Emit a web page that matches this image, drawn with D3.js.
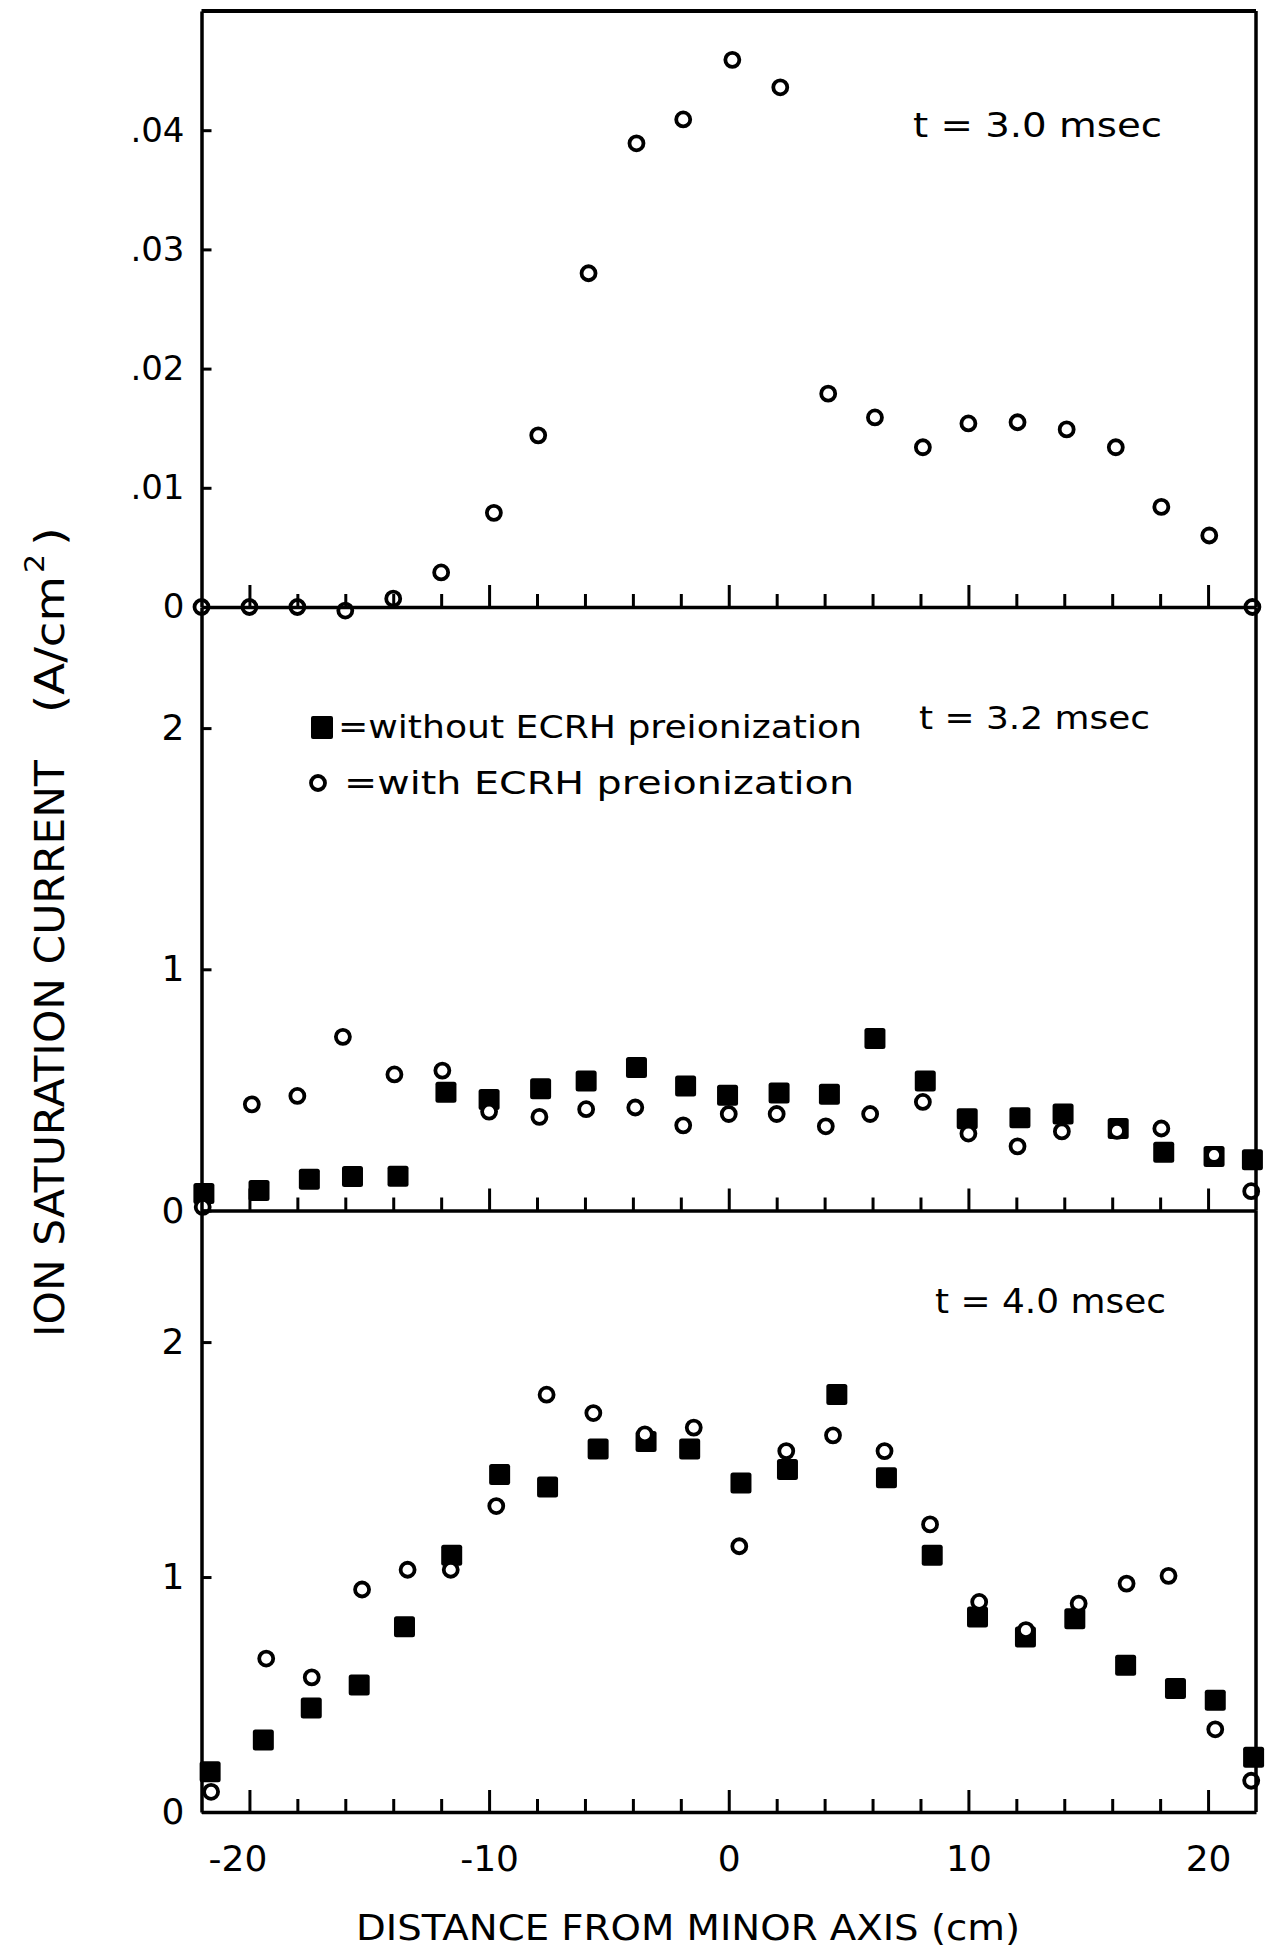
<!DOCTYPE html>
<html><head><meta charset="utf-8">
<script src="https://cdn.jsdelivr.net/npm/d3@7"></script>
<style>
html,body{margin:0;padding:0;background:#fff;}
svg{display:block;}
</style></head><body>
<svg id="chart" width="1270" height="1952"></svg>
<script>
// ---------------- data ----------------
const xTicks = [-20,-18,-16,-14,-12,-10,-8,-6,-4,-2,0,2,4,6,8,10,12,14,16,18,20];
const xMajorTicks = [-20,-10,0,10,20];
const xTickLabels = ["-20","-10","0","10","20"];
const p1YTicks = [0,0.01,0.02,0.03,0.04];
const p1YTickLabels = ["0",".01",".02",".03",".04"];
const p23YTicks = [0,1,2];
const p23YTickLabels = ["0","1","2"];
const panelTitles = ["t = 3.0 msec","t = 3.2 msec","t = 4.0 msec"];
const legendLabels = ["=without ECRH preionization","=with ECRH preionization"];
const xTitle = "DISTANCE FROM MINOR AXIS (cm)";
const yTitleMain = "ION SATURATION CURRENT";
const yTitleUnit = "(A/cm";

// panel 1: t = 3.0 msec (open circles)
const p1X = [-22,-20,-18,-16,-14,-12,-9.8,-7.95,-5.85,-3.85,-1.9,0.15,2.15,4.15,6.1,8.1,10,12.05,14.1,16.15,18.05,20.05,21.85];
const p1Y = [0,0,0,-0.0003,0.0007,0.0029,0.0079,0.0144,0.028,0.0389,0.0409,0.0459,0.0436,0.0179,0.0159,0.0134,0.0154,0.0155,0.0149,0.0134,0.0084,0.006,0];

// panel 2: t = 3.2 msec
const p2WithX = [-21.95,-19.9,-18,-16.1,-13.95,-11.95,-10,-7.9,-5.95,-3.9,-1.9,0,2,4.05,5.9,8.1,10,12.05,13.9,16.2,18.05,20.25,21.8];
const p2WithY = [0.015,0.44,0.475,0.72,0.564,0.58,0.41,0.388,0.42,0.427,0.353,0.40,0.40,0.349,0.40,0.45,0.319,0.266,0.328,0.33,0.34,0.23,0.08];
const p2WithoutX = [-21.9,-19.6,-17.5,-15.7,-13.8,-11.8,-10,-7.85,-5.95,-3.85,-1.8,-0.05,2.1,4.2,6.1,8.2,9.95,12.15,13.95,16.25,18.15,20.25,21.85];
const p2WithoutY = [0.07,0.083,0.13,0.141,0.142,0.49,0.46,0.505,0.537,0.593,0.516,0.478,0.487,0.482,0.713,0.537,0.38,0.385,0.40,0.34,0.242,0.224,0.21];

// panel 3: t = 4.0 msec
const p3WithX = [-21.6,-19.3,-17.4,-15.3,-13.4,-11.6,-9.7,-7.6,-5.65,-3.5,-1.46,0.44,2.4,4.35,6.5,8.4,10.45,12.4,14.6,16.6,18.35,20.3,21.8];
const p3WithY = [0.086,0.653,0.573,0.947,1.031,1.031,1.302,1.776,1.698,1.607,1.636,1.131,1.536,1.603,1.536,1.224,0.894,0.774,0.887,0.972,1.005,0.352,0.133];
const p3WithoutX = [-21.64,-19.42,-17.42,-15.42,-13.53,-11.56,-9.56,-7.56,-5.45,-3.45,-1.63,0.51,2.45,4.51,6.58,8.49,10.38,12.38,14.44,16.56,18.64,20.3,21.9];
const p3WithoutY = [0.171,0.306,0.443,0.54,0.788,1.093,1.436,1.383,1.545,1.577,1.545,1.40,1.458,1.777,1.423,1.093,0.83,0.745,0.823,0.625,0.526,0.476,0.233];

// ---------------- layout ----------------
const FONT = "'DejaVu Sans', 'Liberation Sans', sans-serif";
const svg = d3.select("#chart");
svg.append("rect").attr("width",1270).attr("height",1952).attr("fill","#fff");

const x = d3.scaleLinear().domain([-22,22]).range([201.5,1256]);
const y1 = d3.scaleLinear().domain([0,0.05]).range([607,11]);
const y2 = d3.scaleLinear().domain([0,2.5]).range([1210.5,607.5]);
const y3 = d3.scaleLinear().domain([0,2.56]).range([1812,1210.5]);

const panels = [
  {y:y1, yTicks:p1YTicks, yLabels:p1YTickLabels, yFont:34, bottom:false,
   title:panelTitles[0], tx:913, tb:137, tl:249, tf:34,
   squares:null, circles:{x:p1X, y:p1Y}, circleFill:"none"},
  {y:y2, yTicks:p23YTicks, yLabels:p23YTickLabels, yFont:36, bottom:false,
   title:panelTitles[1], tx:919, tb:729, tl:231, tf:32,
   squares:{x:p2WithoutX, y:p2WithoutY}, circles:{x:p2WithX, y:p2WithY}, circleFill:"#fff"},
  {y:y3, yTicks:p23YTicks, yLabels:p23YTickLabels, yFont:36, bottom:true,
   title:panelTitles[2], tx:935, tb:1313, tl:231, tf:34,
   squares:{x:p3WithoutX, y:p3WithoutY}, circles:{x:p3WithX, y:p3WithY}, circleFill:"#fff"}
];

const SQ = 21, CR = 7, CSW = 3.8;

function drawSquares(g, xs, ys, yScale) {
  g.selectAll(null).data(xs.map((d,i)=>({x:d, y:ys[i]}))).enter().append("rect")
    .attr("x", d => x(d.x) - SQ/2).attr("y", d => yScale(d.y) - SQ/2)
    .attr("width", SQ).attr("height", SQ).attr("rx", 2.5)
    .attr("fill", "#000");
}
function drawCircles(g, xs, ys, yScale, fill) {
  g.selectAll(null).data(xs.map((d,i)=>({x:d, y:ys[i]}))).enter().append("circle")
    .attr("cx", d => x(d.x)).attr("cy", d => yScale(d.y)).attr("r", CR)
    .attr("fill", fill).attr("stroke", "#000").attr("stroke-width", CSW);
}

panels.forEach(p => {
  const gm = svg.append("g");
  if (p.squares) drawSquares(gm, p.squares.x, p.squares.y, p.y);
  drawCircles(gm, p.circles.x, p.circles.y, p.y, p.circleFill);

  // x axis (zero line with inward ticks)
  const fmt = d => { const i = xMajorTicks.indexOf(d); return (p.bottom && i >= 0) ? xTickLabels[i] : ""; };
  const gx = svg.append("g").attr("transform", `translate(0,${p.y(0)})`)
    .call(d3.axisBottom(x).tickValues(xTicks).tickSize(-13).tickSizeOuter(0).tickPadding(33).tickFormat(fmt));
  gx.attr("font-size", 36).attr("font-family", FONT);
  gx.select(".domain").attr("stroke", "#000").attr("stroke-width", 3.5);
  gx.selectAll(".tick line").attr("stroke", "#000").attr("stroke-width", 3)
    .filter(d => xMajorTicks.includes(d)).attr("y2", -22);
  gx.selectAll(".tick text").attr("fill", "#000").attr("dx", d => d === -20 ? -12 : 0);

  // y axis (left)
  const gy = svg.append("g").attr("transform", `translate(${x.range()[0]},0)`)
    .call(d3.axisLeft(p.y).tickValues(p.yTicks).tickSize(-10).tickSizeOuter(0).tickPadding(17)
      .tickFormat((d,i) => p.yLabels[i]));
  gy.attr("font-size", p.yFont).attr("font-family", FONT);
  gy.select(".domain").attr("stroke", "#000").attr("stroke-width", 3.5);
  gy.selectAll(".tick line").attr("stroke", "#000").attr("stroke-width", 3);
  gy.selectAll(".tick text").attr("fill", "#000");

  // right border
  svg.append("line").attr("x1", x.range()[1]).attr("x2", x.range()[1])
    .attr("y1", p.y.range()[1]).attr("y2", p.y.range()[0])
    .attr("stroke", "#000").attr("stroke-width", 3.5);

  // panel annotation
  svg.append("text").attr("x", p.tx).attr("y", p.tb)
    .attr("font-family", FONT).attr("font-size", p.tf).attr("fill", "#000")
    .attr("textLength", p.tl).attr("lengthAdjust", "spacingAndGlyphs")
    .text(p.title);
});

// top border
svg.append("line").attr("x1", x.range()[0]).attr("x2", x.range()[1])
  .attr("y1", y1.range()[1]).attr("y2", y1.range()[1])
  .attr("stroke", "#000").attr("stroke-width", 4);

// legend (panel 2)
svg.append("rect").attr("x", 311).attr("y", 716).attr("width", 22).attr("height", 23).attr("rx", 2).attr("fill", "#000");
svg.append("text").attr("x", 338).attr("y", 738)
  .attr("font-family", FONT).attr("font-size", 32).attr("fill", "#000")
  .attr("textLength", 524).attr("lengthAdjust", "spacingAndGlyphs").text(legendLabels[0]);
svg.append("circle").attr("cx", 318).attr("cy", 783).attr("r", CR)
  .attr("fill", "#fff").attr("stroke", "#000").attr("stroke-width", CSW);
svg.append("text").attr("x", 344).attr("y", 794)
  .attr("font-family", FONT).attr("font-size", 32).attr("fill", "#000")
  .attr("textLength", 510).attr("lengthAdjust", "spacingAndGlyphs").text(legendLabels[1]);

// x title
svg.append("text").attr("x", 356).attr("y", 1940)
  .attr("font-family", FONT).attr("font-size", 36).attr("fill", "#000")
  .attr("textLength", 664).attr("lengthAdjust", "spacingAndGlyphs").text(xTitle);

// y title (rotated)
const gt = svg.append("g").attr("transform", "translate(64,0) rotate(-90)")
  .attr("font-family", FONT).attr("fill", "#000");
gt.append("text").attr("x", -1337).attr("y", 0).attr("font-size", 41)
  .attr("textLength", 577).attr("lengthAdjust", "spacingAndGlyphs").text(yTitleMain);
gt.append("text").attr("x", -713).attr("y", 0).attr("font-size", 41)
  .attr("textLength", 137).attr("lengthAdjust", "spacingAndGlyphs").text(yTitleUnit);
gt.append("text").attr("x", -573).attr("y", -20).attr("font-size", 26)
  .attr("textLength", 19).attr("lengthAdjust", "spacingAndGlyphs").text("2");
gt.append("text").attr("x", -546).attr("y", 0).attr("font-size", 41)
  .attr("textLength", 19).attr("lengthAdjust", "spacingAndGlyphs").text(")");
</script>
</body></html>
